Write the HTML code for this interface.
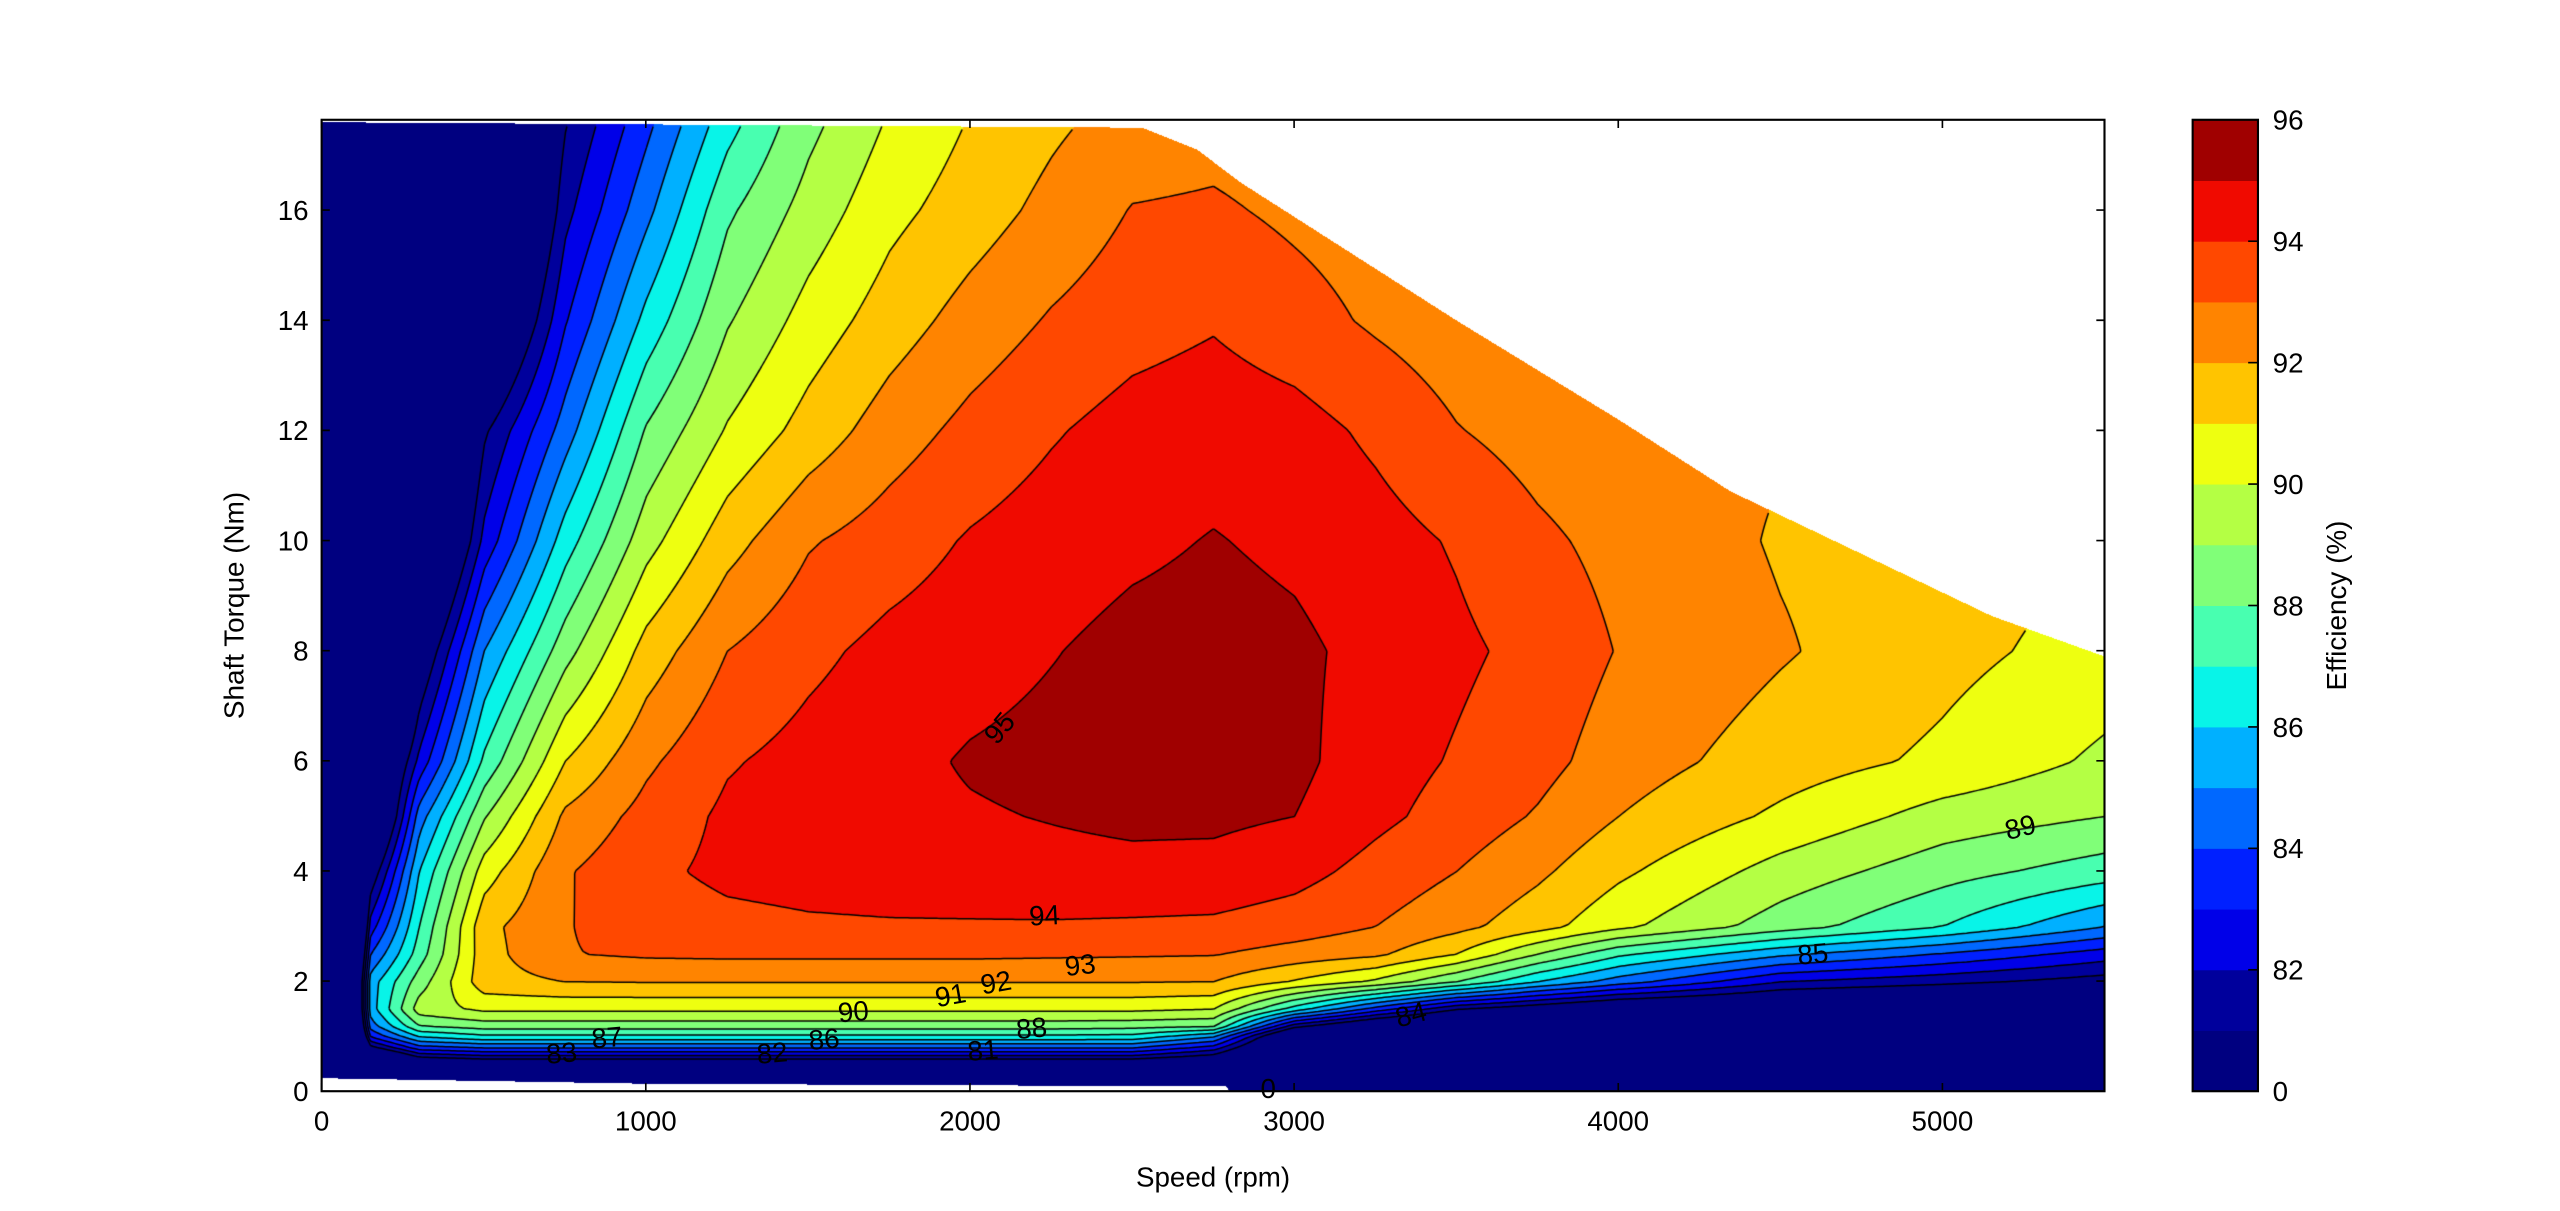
<!DOCTYPE html>
<html><head><meta charset="utf-8">
<style>
html,body{margin:0;padding:0;background:#fff;}
body{width:2560px;height:1211px;position:relative;overflow:hidden;}
#field{position:absolute;left:322px;top:120px;width:1783px;height:972px;}
#ov{position:absolute;left:0;top:0;}
text{font-family:"Liberation Sans",Arial,sans-serif;fill:#000;}
</style></head>
<body>
<canvas id="field" width="1783" height="972"></canvas>
<svg id="ov" width="2560" height="1211" viewBox="0 0 1568 738" preserveAspectRatio="none"></svg>
<script>
// ---- data ----
const speeds = [0,150,300,500,750,1000,1250,1500,1750,2000,2250,2500,2750,3000,3250,3500,3750,4000,4500,5000,5500];
const torques = [0,0.4,0.6,0.8,1.0,1.2,1.5,2.0,2.5,3,4,5,6,8,10,12,14,16,17.6];
const eff_t00 = [50,50,50,50,50,50,50,50,50,50,50,50,50,50,50,50,50,50,50,50,50];
const eff_t04 = [50,70,76,76,76,76,76,76,76,76,76,76,76,74,72,70,70,70,70,70,70];
const eff_t06 = [55,77,80.5,81.1,81.1,81.1,81.1,81.1,81.1,81.1,81.1,81.1,80,76,73,72,72,72,72,72,72];
const eff_t08 = [58,80.5,83.5,84,84,84,84,84,84,84,84,84,82.5,77,74,73,73,73,73,73,73];
const eff_t10 = [60,83,86,86.7,86.7,86.7,86.7,86.7,86.7,86.7,86.7,86.6,85,78,76,75,75,74,74,74,74];
const eff_t12 = [60,84.5,88,88.5,88.5,88.5,88.5,88.5,88.5,88.5,88.5,88.4,88.2,81.5,79,77.5,77,76.5,76,76,76];
const eff_t15 = [60,85.5,89.5,90.2,90.2,90.2,90.2,90.2,90.2,90.2,90.2,90.2,90.0,86.5,83.5,81,80,79,78.5,78,77.5];
const eff_t20 = [60,85.5,88.5,91.6,92.0,92.05,92.05,92.05,92.05,92.05,92.05,92.05,92.0,90.9,89.8,88,86,84.5,82,81.3,80.5];
const eff_t25 = [60,84,87.5,91.6,92.95,93.15,93.2,93.2,93.2,93.2,93.15,93.1,93.05,92.6,92.2,91.0,89.0,87.2,85.2,83.9,82.5];
const eff_t3 = [60,82.5,87,91.7,92.95,93.4,93.7,93.85,93.9,93.9,93.9,93.85,93.8,93.5,93.0,92.3,91.4,90.25,88.5,87.0,85.0];
const eff_t4 = [60,80,86,90.5,92.9,93.75,94.25,94.4,94.5,94.6,94.7,94.75,94.7,94.35,93.65,93.0,92.2,91.2,89.6,88.4,87.5];
const eff_t5 = [60,77,84.5,88.9,92.2,93.35,94.2,94.5,94.7,94.9,95.05,95.2,95.2,95.0,94.25,93.6,92.9,92.0,90.8,89.6,89.0];
const eff_t6 = [60,77,82.3,87.2,91.0,92.8,93.9,94.35,94.7,95.1,95.3,95.4,95.4,95.25,94.45,93.9,93.35,92.5,91.5,90.8,89.8];
const eff_t8 = [60,70,79.5,85.0,88.6,91.4,93.0,93.75,94.3,94.6,94.95,95.3,95.4,95.2,94.7,94.2,93.7,92.95,92.1,91.3,90.6];
const eff_t10b = [60,68,76,82.3,86.5,89.6,91.6,92.9,93.5,94.1,94.5,94.8,95.05,94.8,94.4,93.9,93.2,92.7,91.9,91.5,91];
const eff_t12b = [60,67,74,80.8,84.5,88.1,90.1,91.4,92.5,93.3,93.9,94.4,94.6,94.4,93.8,93.05,92.6,92.3,92.1,92,92];
const eff_t14 = [60,66,72,77.5,82.9,86.3,88.9,90.4,91.5,92.4,93.1,93.6,93.9,93.4,92.85,92.4,92.2,92.0,92,92,92];
const eff_t16 = [60,65,70,75,81.67,84.7,87.8,89.4,90.7,91.5,92.3,93.05,93.15,92.8,92.5,92.3,92.3,92.3,92.3,92.3,92.3];
const eff_t176 = [60,65,70,75,80.9,83.7,86.6,88.7,90.1,91.06,91.8,92.4,92.6,92.4,92.3,92.3,92.3,92.3,92.3,92.3,92.3];
const effGrid = [eff_t00,eff_t04,eff_t06,eff_t08,eff_t10,eff_t12,eff_t15,eff_t20,eff_t25,eff_t3,eff_t4,eff_t5,eff_t6,eff_t8,eff_t10b,eff_t12b,eff_t14,eff_t16,eff_t176];
const envSpeeds = [0,2530,2700,2835,3500,4000,4345,5150,5500];
const envTorques = [17.6,17.5,17.1,16.5,14.0,12.2,10.9,8.64,7.9];
const minSpeeds = [0,1000,2790,2800,5500];
const minTorques = [0.25,0.15,0.1,0,0];
const levels = [0,81,82,83,84,85,86,87,88,89,90,91,92,93,94,95,96];
const bandColors = ["#000080","#00009c","#0000e8","#0020ff","#0068ff","#00b0ff","#08f4e8","#48ffb0","#80ff78","#b4ff44","#eeff10","#ffc400","#ff8400","#ff4800","#f00a00","#a00000"];
const lineLevels = [81,82,83,84,85,86,87,88,89,90,91,92,93,94,95];
const xTicks = [0,1000,2000,3000,4000,5000];
const yTicks = [0,2,4,6,8,10,12,14,16];
const cbTickLabels = ["0","82","84","86","88","90","92","94","96"];
const cbTickLevels = [0,82,84,86,88,90,92,94,96];
const clabels = [["95",2090,6.6,-50],["94",2230,3.2,-3],["93",2340,2.3,-6],["92",2080,1.98,-10],["91",1940,1.75,-10],["90",1640,1.45,-5],["88",2190,1.15,-5],["89",5240,4.8,-14],["85",4600,2.5,-5],["84",3360,1.4,-15],["87",880,0.98,-5],["83",740,0.7,-5],["82",1390,0.7,-5],["86",1550,0.95,-5],["81",2040,0.75,-5]];

// ---- geometry (view coords) ----
const X0=197,X1=1289,Y0=665,Y1=73,XMAX=5500,YMAX=(665-73)/33.56;
const sx = v => X0 + v/XMAX*(X1-X0);
const sy = v => Y0 - v/YMAX*(Y0-Y1);

function lin(xs,ys,x){ if(x<=xs[0])return ys[0]; for(let i=0;i<xs.length-1;i++){ if(x<=xs[i+1]){const t=(x-xs[i])/(xs[i+1]-xs[i]);return ys[i]+t*(ys[i+1]-ys[i]);}} return ys[ys.length-1]; }
function idx(a,v){ let i=0; while(i<a.length-2 && v>a[i+1]) i++; return i; }
function effAt(r,T){ const i=idx(speeds,r), j=idx(torques,T);
  const tx=Math.max(0,Math.min(1,(r-speeds[i])/(speeds[i+1]-speeds[i])));
  const ty=Math.max(0,Math.min(1,(T-torques[j])/(torques[j+1]-torques[j])));
  const a=effGrid[j][i],b=effGrid[j][i+1],c=effGrid[j+1][i],d=effGrid[j+1][i+1];
  return (a*(1-tx)+b*tx)*(1-ty)+(c*(1-tx)+d*tx)*ty; }
function hex(h){return [parseInt(h.substr(1,2),16),parseInt(h.substr(3,2),16),parseInt(h.substr(5,2),16)];}
const rgb = bandColors.map(hex);

// ---- field ----
const cv=document.getElementById('field'), ctx=cv.getContext('2d');
const W=cv.width,H=cv.height;
const img=ctx.createImageData(W,H);
const vals=new Float32Array(W*H), inside=new Uint8Array(W*H);
for(let py=0;py<H;py++){ const T=(H-py-0.5)/H*YMAX;
  for(let px=0;px<W;px++){ const r=(px+0.5)/W*XMAX; const k=py*W+px;
    if(T>lin(envSpeeds,envTorques,r) || T<lin(minSpeeds,minTorques,r)){ img.data[k*4+3]=0; continue; }
    const v=effAt(r,T); vals[k]=v; inside[k]=1;
    let b=0; for(let l=1;l<levels.length-1;l++){ if(v>=levels[l]) b=l; }
    const c=rgb[b]; img.data[k*4]=c[0];img.data[k*4+1]=c[1];img.data[k*4+2]=c[2];img.data[k*4+3]=255; } }
ctx.putImageData(img,0,0);
ctx.strokeStyle="#000"; ctx.lineWidth=1.5; ctx.beginPath();
const S=3;
for(const L of lineLevels){
  for(let y=0;y+S<H;y+=S){ for(let x=0;x+S<W;x+=S){
    const k0=y*W+x,k1=k0+S,k2=k0+S*W+S,k3=k0+S*W;
    if(!(inside[k0]&&inside[k1]&&inside[k2]&&inside[k3])) continue;
    const v=[vals[k0],vals[k1],vals[k2],vals[k3]];
    const p=[[x,y],[x+S,y],[x+S,y+S],[x,y+S]];
    const pts=[];
    for(let e=0;e<4;e++){ const a=v[e],b=v[(e+1)%4];
      if((a<L)!==(b<L)){ const t=(L-a)/(b-a); const pa=p[e],pb=p[(e+1)%4]; pts.push([pa[0]+t*(pb[0]-pa[0])+0.5,pa[1]+t*(pb[1]-pa[1])+0.5]); } }
    if(pts.length>=2){ ctx.moveTo(pts[0][0],pts[0][1]); ctx.lineTo(pts[1][0],pts[1][1]); }
    if(pts.length===4){ ctx.moveTo(pts[2][0],pts[2][1]); ctx.lineTo(pts[3][0],pts[3][1]); }
  } } }
ctx.stroke();

// ---- overlay ----
const svg=document.getElementById('ov'); const NS="http://www.w3.org/2000/svg";
function mk(tag,attrs,parent){ const e=document.createElementNS(NS,tag); for(const k in attrs) e.setAttribute(k,attrs[k]); (parent||svg).appendChild(e); return e; }

clabels.forEach(c=>{ const t=mk('text',{x:sx(c[1]),y:sy(c[2])+6,'font-size':17,'text-anchor':'middle',transform:`rotate(${c[3]} ${sx(c[1])} ${sy(c[2])})`});
  
  
  t.textContent=c[0]; });
{ const t=mk('text',{x:sx(2920),y:669,'font-size':17,'text-anchor':'middle'});
  
  
  t.textContent='0'; }

const frame=mk('rect',{x:X0,y:Y1,width:X1-X0,height:Y0-Y1,fill:'none',stroke:'#000','stroke-width':1.3});


xTicks.forEach(v=>{ const x=sx(v);
  const tk=mk('path',{d:`M${x},${Y0}v-5M${x},${Y1}v5`,stroke:'#000','stroke-width':1});
  
  
  const t=mk('text',{x:x,y:Y0+24,'font-size':17,'text-anchor':'middle'});
  
  
  t.textContent=v; });
yTicks.forEach(v=>{ const y=sy(v);
  const tk=mk('path',{d:`M${X0},${y}h5M${X1},${y}h-5`,stroke:'#000','stroke-width':1});
  
  
  const t=mk('text',{x:X0-8,y:y+6,'font-size':17,'text-anchor':'end'});
  
  
  t.textContent=v; });
const xt=mk('text',{x:743,y:723,'font-size':17,'text-anchor':'middle'}); xt.textContent='Speed  (rpm)';


const yt=mk('text',{x:0,y:0,'font-size':17,'text-anchor':'middle',transform:'translate(149,369) rotate(-90)'}); yt.textContent='Shaft Torque  (Nm)';



const CBX=1343,CBW=40,nb=bandColors.length,bh=(Y0-Y1)/nb;
bandColors.forEach((c,i)=>{ const r=mk('rect',{x:CBX,y:Y0-(i+1)*bh,width:CBW,height:bh+0.3,fill:c});
  
   });
const cbf=mk('rect',{x:CBX,y:Y1,width:CBW,height:Y0-Y1,fill:'none',stroke:'#000','stroke-width':1.3});


cbTickLevels.forEach((lv,i)=>{ const li=levels.indexOf(lv); const y=Y0-li*bh;
  if(i>0&&i<cbTickLevels.length-1){ const tk=mk('path',{d:`M${CBX+CBW},${y}h-6`,stroke:'#000','stroke-width':1});
    
     }
  const t=mk('text',{x:CBX+CBW+9,y:y+6,'font-size':17}); t.textContent=cbTickLabels[i];
  
   });
const ct=mk('text',{x:0,y:0,'font-size':17,'text-anchor':'middle',transform:'translate(1437,369) rotate(-90)'}); ct.textContent='Efficiency (%)';


</script>
</body></html>
